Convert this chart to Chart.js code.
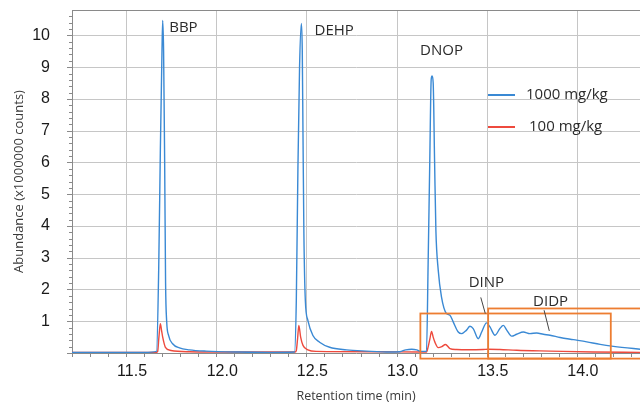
<!DOCTYPE html>
<html><head><meta charset="utf-8">
<script src="https://cdn.jsdelivr.net/npm/chart.js@4.4.0/dist/chart.umd.min.js"></script>
<style>html,body{margin:0;padding:0;background:#fff;overflow:hidden}#wrap{width:640px;height:405px}</style>
</head><body><div id="wrap"><canvas id="c" width="640" height="405"></canvas></div>
<script>
// ---- data ----
const xTickLabels = ['11.5','12.0','12.5','13.0','13.5','14.0'];
const yTickLabels = ['1','2','3','4','5','6','7','8','9','10'];
const seriesNames = ['1000 mg/kg','100 mg/kg'];
const X_MIN = 11.2, X_MAX = 14.35, Y_MIN = 0, Y_MAX = 10.8;

const timeHigh = [11.200,11.600,11.669,11.681,11.690,11.699,11.703,11.708,11.714,11.719,11.725,11.736,11.758,11.796,11.851,11.944,12.129,12.300,12.434,12.444,12.453,12.462,12.472,12.477,12.481,12.486,12.494,12.508,12.536,12.573,12.629,12.722,12.833,12.962,13.018,13.051,13.084,13.112,13.134,13.166,13.175,13.184,13.192,13.197,13.203,13.211,13.218,13.231,13.249,13.277,13.296,13.314,13.342,13.361,13.388,13.407,13.425,13.453,13.472,13.499,13.518,13.546,13.573,13.592,13.611,13.638,13.666,13.703,13.740,13.777,13.814,13.851,13.907,13.981,14.055,14.129,14.203,14.314,14.351];
const abundHigh = [0.02,0.02,0.05,2.7,6.4,9.5,10.47,9.5,5.9,2.2,1.0,0.55,0.29,0.16,0.10,0.06,0.03,0.02,0.03,1.66,5.86,9.0,10.38,9.54,6.9,3.77,1.66,1.03,0.55,0.34,0.18,0.10,0.06,0.03,0.04,0.1,0.12,0.1,0.05,0.05,2.82,5.98,8.61,8.72,8.51,5.98,3.87,2.61,1.77,1.24,1.19,0.98,0.66,0.61,0.72,0.84,0.77,0.45,0.66,0.95,0.82,0.56,0.77,0.87,0.72,0.53,0.59,0.66,0.61,0.63,0.59,0.56,0.49,0.42,0.35,0.27,0.21,0.14,0.12];

const timeLow = [11.200,11.668,11.675,11.682,11.690,11.697,11.703,11.718,11.749,11.851,12.129,12.437,12.444,12.451,12.458,12.468,12.481,12.508,12.555,12.907,13.129,13.166,13.175,13.185,13.194,13.203,13.212,13.231,13.251,13.271,13.296,13.333,13.396,13.481,13.507,13.573,13.666,13.851,14.090,14.351];
const abundLow = [0.02,0.02,0.05,0.5,0.92,0.7,0.5,0.18,0.08,0.04,0.03,0.03,0.08,0.45,0.87,0.5,0.24,0.1,0.05,0.04,0.03,0.03,0.19,0.45,0.68,0.5,0.35,0.17,0.2,0.27,0.14,0.11,0.1,0.11,0.12,0.11,0.085,0.06,0.03,0.02];

const peakNames = ['BBP','DEHP','DNOP','DINP','DIDP'];
const peakLabelTime = [11.818,12.654,13.249,13.498,13.854];
const peakLabelAbund = [10.24,10.15,9.53,2.22,1.61];
const leaderStartTime = [13.467,13.818];
const leaderStartAbund = [1.75,1.348];
const leaderEndTime = [13.492,13.847];
const leaderEndAbund = [1.244,0.695];
const boxStartTime = [13.132,13.508];
const boxEndTime = [14.188,14.45];
const boxLowAbund = [-0.177,-0.177];
const boxHighAbund = [1.244,1.402];

// ---- build ----
const toPoints = (xs, ys) => xs.map((x, i) => ({x, y: ys[i]}));
const near = (a, b) => Math.abs(a - b) < 1e-6;
const isHalf = v => Math.abs(v * 2 - Math.round(v * 2)) < 1e-6;
const crisp = p => Math.round(p) + 0.5;
const GRID_COLOR = '#c6c6c6';

const gridPlugin = {
  id: 'gridPlugin',
  beforeDatasetsDraw(chart) {
    const {ctx, chartArea: a, scales: {x, y}} = chart;
    ctx.save();
    ctx.lineWidth = 1;
    y.ticks.forEach(t => {
      const py = crisp(y.getPixelForValue(t.value));
      const isInt = near(t.value, Math.round(t.value));
      if (near(t.value, Y_MAX)) {
        ctx.strokeStyle = '#8a8a8a';
        ctx.beginPath(); ctx.moveTo(a.left, py); ctx.lineTo(a.right, py); ctx.stroke();
        return;
      }
      if (isInt && t.value > 0.5) {
        ctx.strokeStyle = GRID_COLOR;
        ctx.beginPath(); ctx.moveTo(a.left + 1, py); ctx.lineTo(a.right, py); ctx.stroke();
      }
      ctx.strokeStyle = '#8a8a8a';
      ctx.beginPath(); ctx.moveTo(a.left - (isInt ? 5 : 3), py); ctx.lineTo(a.left, py); ctx.stroke();
    });
    x.ticks.forEach(t => {
      const px = crisp(x.getPixelForValue(t.value));
      if (isHalf(t.value)) {
        ctx.strokeStyle = GRID_COLOR;
        ctx.beginPath(); ctx.moveTo(px, a.top + 1); ctx.lineTo(px, a.bottom); ctx.stroke();
      }
      ctx.strokeStyle = '#8a8a8a';
      ctx.beginPath(); ctx.moveTo(px, a.bottom); ctx.lineTo(px, a.bottom + 4); ctx.stroke();
    });
    ctx.restore();
  }
};

const overlay = {
  id: 'overlay',
  afterDatasetsDraw(chart) {
    const {ctx, scales: {x, y}} = chart;
    ctx.save();
    ctx.strokeStyle = '#ed7d31';
    ctx.lineWidth = 1.8;
    for (let i = 0; i < boxStartTime.length; i++) {
      const x0 = x.getPixelForValue(boxStartTime[i]), x1 = x.getPixelForValue(boxEndTime[i]);
      const y0 = y.getPixelForValue(boxHighAbund[i]), y1 = y.getPixelForValue(boxLowAbund[i]);
      ctx.strokeRect(x0, y0, x1 - x0, y1 - y0);
    }
    ctx.strokeStyle = '#444';
    ctx.lineWidth = 1;
    for (let i = 0; i < leaderStartTime.length; i++) {
      ctx.beginPath();
      ctx.moveTo(x.getPixelForValue(leaderStartTime[i]), y.getPixelForValue(leaderStartAbund[i]));
      ctx.lineTo(x.getPixelForValue(leaderEndTime[i]), y.getPixelForValue(leaderEndAbund[i]));
      ctx.stroke();
    }
    ctx.fillStyle = '#2b2b2b';
    ctx.font = '15px "Open Sans"';
    ctx.textAlign = 'center';
    ctx.textBaseline = 'middle';
    peakNames.forEach((n, i) => ctx.fillText(n, x.getPixelForValue(peakLabelTime[i]), y.getPixelForValue(peakLabelAbund[i])));
    const lx = 488, ly = 95, gap = 32;
    chart.data.datasets.forEach((ds, i) => {
      ctx.strokeStyle = ds.borderColor;
      ctx.lineWidth = 2;
      ctx.beginPath();
      ctx.moveTo(lx, ly + i * gap);
      ctx.lineTo(lx + 27, ly + i * gap);
      ctx.stroke();
      ctx.fillStyle = '#2b2b2b';
      ctx.textAlign = 'left';
      ctx.fillText(ds.label, lx + 38 + (i === 1 ? 3 : 0), ly + i * gap);
    });
    ctx.restore();
  }
};

new Chart(document.getElementById('c'), {
  type: 'line',
  data: {
    datasets: [
      {label: seriesNames[0], data: toPoints(timeHigh, abundHigh), borderColor: '#3a89d4', borderWidth: 1.4, pointRadius: 0, cubicInterpolationMode: 'monotone', fill: false},
      {label: seriesNames[1], data: toPoints(timeLow, abundLow), borderColor: '#ee4a3d', borderWidth: 1.4, pointRadius: 0, cubicInterpolationMode: 'monotone', fill: false}
    ]
  },
  options: {
    responsive: false,
    animation: false,
    devicePixelRatio: 1,
    layout: {padding: {top: 10, right: 0, bottom: 0, left: 0}},
    plugins: {legend: {display: false}, tooltip: {enabled: false}},
    scales: {
      x: {
        type: 'linear', min: X_MIN, max: X_MAX,
        afterFit(s) { s.height = 52; s.paddingLeft = 0; s.paddingRight = 0; },
        border: {display: true, color: '#8a8a8a', width: 1},
        grid: {color: 'rgba(0,0,0,0)', tickColor: 'rgba(0,0,0,0)', tickLength: 4, drawTicks: true},
        ticks: {
          stepSize: 0.1, includeBounds: false, autoSkip: false, maxRotation: 0, padding: 5, labelOffset: 6,
          color: '#1a1a1a', font: {family: '"Liberation Sans", Arial', size: 16},
          callback: v => { const s = v.toFixed(1); return (isHalf(v) && xTickLabels.includes(s)) ? s : ''; }
        },
        title: {display: true, text: 'Retention time (min)', color: '#3a3a3a', font: {family: '"Open Sans"', size: 12.5}, padding: {top: 0, bottom: 1}}
      },
      y: {
        type: 'linear', min: Y_MIN, max: Y_MAX,
        afterFit(s) { s.width = 72; s.paddingTop = 0; s.paddingBottom = 0; },
        border: {display: true, color: '#8a8a8a', width: 1},
        grid: {color: 'rgba(0,0,0,0)', tickColor: 'rgba(0,0,0,0)', tickLength: 4},
        ticks: {
          stepSize: 0.2, includeBounds: false, autoSkip: false, padding: 18,
          color: '#1a1a1a', font: {family: '"Liberation Sans", Arial', size: 16},
          callback: v => { const r = Math.round(v); return (near(v, r) && yTickLabels.includes(String(r))) ? String(r) : ''; }
        },
        title: {display: true, text: 'Abundance (x1000000 counts)', color: '#3a3a3a', font: {family: '"Open Sans"', size: 13}, padding: {top: 11, bottom: 0}}
      }
    }
  },
  plugins: [gridPlugin, overlay]
});
</script>
</body></html>
